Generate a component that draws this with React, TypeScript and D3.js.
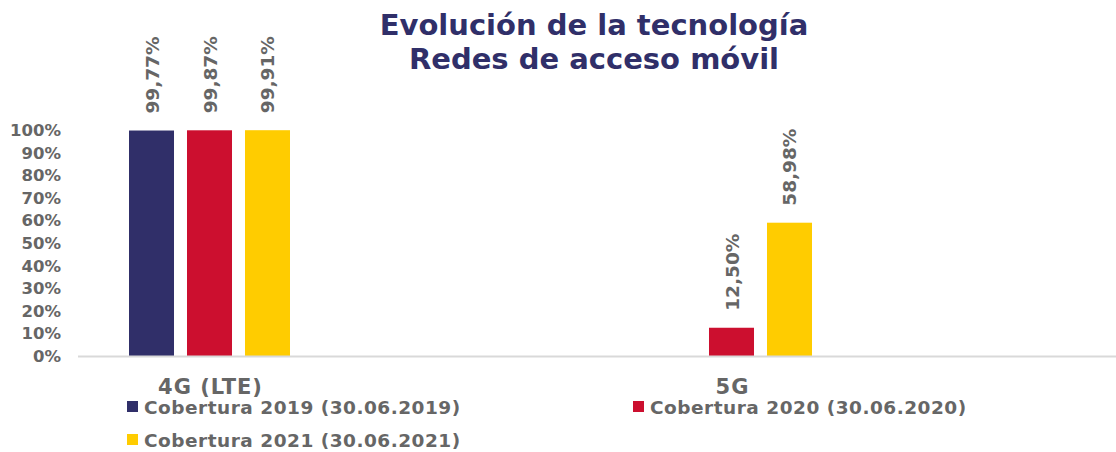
import { useRef, useEffect } from 'react'
import * as d3 from 'd3'

const CATEGORIES = ['4G (LTE)', '5G']
const SERIES = [
  { key: 'c2019', label: 'Cobertura 2019 (30.06.2019)', color: '#302f69' },
  { key: 'c2020', label: 'Cobertura 2020 (30.06.2020)', color: '#cc0f2f' },
  { key: 'c2021', label: 'Cobertura 2021 (30.06.2021)', color: '#ffcc00' },
]
// null = no value for that year
const VALUES_2019 = [99.77, null]
const VALUES_2020 = [99.87, 12.5]
const VALUES_2021 = [99.91, 58.98]
const Y_TICKS = [0, 10, 20, 30, 40, 50, 60, 70, 80, 90, 100]

const W = 1116
const H = 452
const FONT = '"DejaVu Sans", sans-serif'
const GREY = '#666666'

export default function App() {
  const svgRef = useRef<SVGSVGElement>(null)

  useEffect(() => {
    const el = svgRef.current
    if (!el) return
    d3.select(el).selectAll('*').remove()
    const svg = d3.select(el)

    const columns = [VALUES_2019, VALUES_2020, VALUES_2021]
    const data = CATEGORIES.map((cat, i) => ({
      cat,
      vals: SERIES.map((s, j) => ({ key: s.key, color: s.color, v: columns[j][i] })),
    }))

    const x0 = d3.scalePoint<string>().domain(CATEGORIES).range([209.5, 731.5])
    const x1 = d3.scaleBand<string>().domain(SERIES.map(s => s.key)).range([-80.5, 80.5]).paddingInner(0.224)
    const y = d3.scaleLinear().domain([0, 100]).range([356, 130])

    // title
    const title = ['Evolución de la tecnología', 'Redes de acceso móvil']
    title.forEach((t, i) => {
      svg.append('text')
        .attr('x', 594).attr('y', 35 + i * 34)
        .attr('text-anchor', 'middle')
        .attr('font-family', FONT).attr('font-weight', 700).attr('font-size', 29)
        .attr('fill', '#302f69')
        .text(t)
    })

    // y tick labels
    svg.selectAll('.ytick')
      .data(Y_TICKS)
      .join('text')
      .attr('class', 'ytick')
      .attr('x', 61)
      .attr('y', d => y(d) + 6)
      .attr('text-anchor', 'end')
      .attr('font-family', FONT).attr('font-weight', 700).attr('font-size', 16.5)
      .attr('fill', GREY)
      .text(d => d + '%')

    // bars
    const groups = svg.selectAll('.group')
      .data(data)
      .join('g')
      .attr('class', 'group')
      .attr('transform', d => `translate(${x0(d.cat)},0)`)

    groups.selectAll('rect')
      .data(d => d.vals.filter(v => v.v !== null))
      .join('rect')
      .attr('x', d => x1(d.key)!)
      .attr('y', d => y(d.v as number))
      .attr('width', x1.bandwidth())
      .attr('height', d => y(0) - y(d.v as number))
      .attr('fill', d => d.color)

    groups.selectAll('.dlabel')
      .data(d => d.vals.filter(v => v.v !== null))
      .join('text')
      .attr('class', 'dlabel')
      .attr('transform', d => `translate(${x1(d.key)! + x1.bandwidth() / 2 + 7},${y(d.v as number) - 17}) rotate(-90)`)
      .attr('text-anchor', 'start')
      .attr('font-family', FONT).attr('font-weight', 700).attr('font-size', 18.5)
      .attr('fill', GREY)
      .text(d => d3.format('.2f')(d.v as number).replace('.', ',') + '%')

    // baseline
    svg.append('line')
      .attr('x1', 78).attr('x2', W)
      .attr('y1', y(0) + 0.5).attr('y2', y(0) + 0.5)
      .attr('stroke', '#d9d9d9').attr('stroke-width', 2)

    // category labels
    svg.selectAll('.xlabel')
      .data(CATEGORIES)
      .join('text')
      .attr('class', 'xlabel')
      .attr('x', d => x0(d)! + 1)
      .attr('y', 394)
      .attr('text-anchor', 'middle')
      .attr('font-family', FONT).attr('font-weight', 700).attr('font-size', 21)
      .attr('letter-spacing', 1)
      .attr('fill', GREY)
      .text(d => d)

    // legend
    const legendPos = [
      { x: 127, y: 407 },
      { x: 633, y: 407 },
      { x: 127, y: 440 },
    ]
    const leg = svg.selectAll('.legend')
      .data(SERIES)
      .join('g')
      .attr('class', 'legend')
      .attr('transform', (_d, i) => `translate(${legendPos[i].x},${legendPos[i].y})`)
    leg.append('rect')
      .attr('x', 0).attr('y', -6)
      .attr('width', 11).attr('height', 11)
      .attr('fill', d => d.color)
    leg.append('text')
      .attr('x', 17).attr('y', 7)
      .attr('font-family', FONT).attr('font-weight', 700).attr('font-size', 18.5)
      .attr('letter-spacing', 0.5)
      .attr('fill', GREY)
      .text(d => d.label)
  }, [])

  return (
    <svg
      ref={svgRef}
      width={W}
      height={H}
      style={{ position: 'absolute', left: 0, top: 0, background: '#fff' }}
    />
  )
}
